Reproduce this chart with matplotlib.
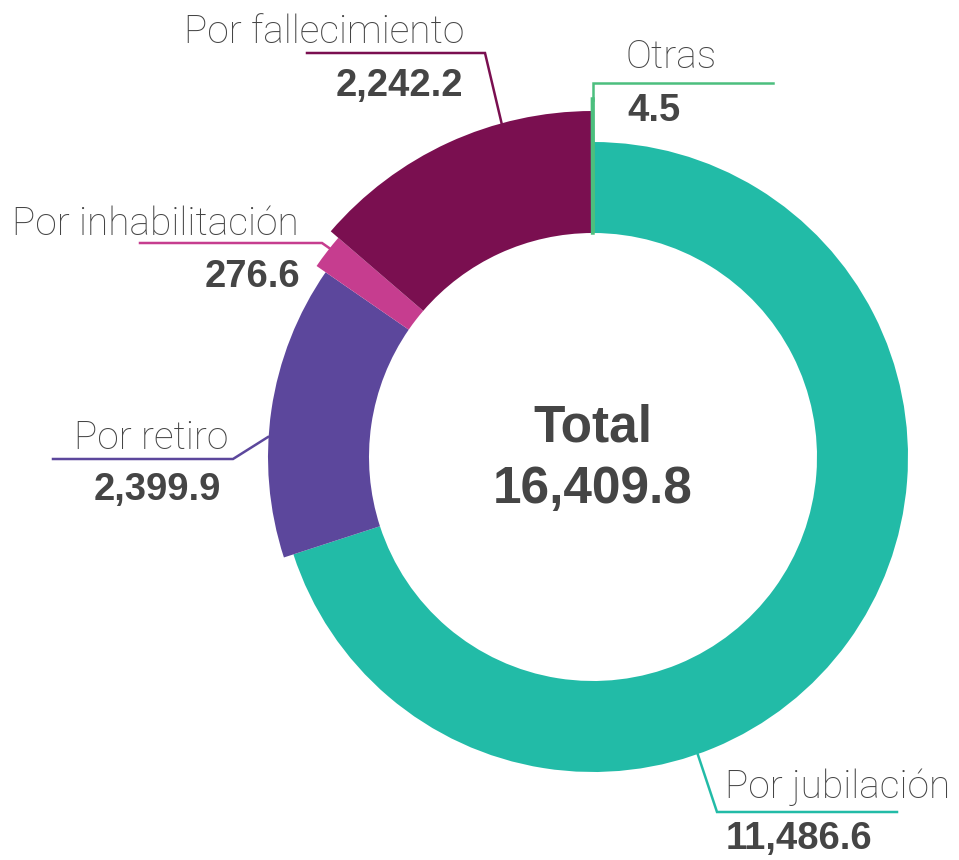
import matplotlib.pyplot as plt
from matplotlib.patches import Wedge

# Datos
categorias = ['Por jubilación', 'Por retiro', 'Por inhabilitación', 'Por fallecimiento', 'Otras']
valores = [11486.6, 2399.9, 276.6, 2242.2, 4.5]
etiquetas_valor = ['11,486.6', '2,399.9', '276.6', '2,242.2', '4.5']
colores = ['#22bba7', '#5c479c', '#c63d8f', '#7a0f50', '#4cbf7e']
total_txt = '16,409.8'

radios = [315, 325, 336, 346, 358]  # cada rebanada un poco mas grande
r_int = 224
gris = '#454545'

fig = plt.figure(figsize=(9.59, 8.6), dpi=100)
ax = fig.add_axes([0, 0, 1, 1])
cx, cy = 593, 457
ax.set_xlim(-cx, 959 - cx)
ax.set_ylim(-(860 - cy), cy)
ax.set_aspect('equal')
ax.axis('off')

total = sum(valores)
ang = 90.0
for v, r, c in zip(valores, radios, colores):
    paso = 360.0 * v / total
    lw = 2.5 if v / total < 0.005 else 0
    w = Wedge((0, 0), r, ang - paso, ang, width=r - r_int, facecolor=c,
              edgecolor=c, linewidth=lw)
    ax.add_patch(w)
    ang -= paso


def px(x, y):
    return x - cx, cy - y


# lineas guia (coordenadas en pixeles de la imagen)
guias = {
    'Por jubilación': [(697, 752), (717, 812), (897, 812)],
    'Por retiro': [(268, 437), (233, 459), (53, 459)],
    'Por inhabilitación': [(332, 250), (322, 243), (140, 243)],
    'Por fallecimiento': [(502, 125), (485, 53), (307, 53)],
    'Otras': [(593, 100), (593, 83), (773, 83)],
}
# (x nombre, base nombre, x valor, base valor, alineacion)
pos_txt = {
    'Por jubilación': (725, 798, 726, 849, 'left'),
    'Por retiro': (228, 449, 221, 500, 'right'),
    'Por inhabilitación': (299, 235, 300, 287, 'right'),
    'Por fallecimiento': (464, 43, 463, 96, 'right'),
    'Otras': (626, 68, 627, 121, 'left'),
}

for cat, val, col in zip(categorias, etiquetas_valor, colores):
    pts = [px(*p) for p in guias[cat]]
    ax.plot([p[0] for p in pts], [p[1] for p in pts], color=col, linewidth=1.8,
            solid_joinstyle='miter')
    xn, yn, xv, yv, ha = pos_txt[cat]
    ax.text(*px(xn, yn), cat, ha=ha, va='baseline', fontsize=28,
            family='Roboto', fontweight='light', color=gris)
    ax.text(*px(xv, yv), val, ha=ha, va='baseline', fontsize=27.5,
            family='Liberation Sans', fontweight='bold', color=gris)

ax.text(*px(593, 442), 'Total', ha='center', va='baseline', fontsize=37,
        family='Liberation Sans', fontweight='bold', color=gris)
ax.text(*px(593, 503), total_txt, ha='center', va='baseline', fontsize=37,
        family='Liberation Sans', fontweight='bold', color=gris)

fig.savefig('out.png', dpi=100)
